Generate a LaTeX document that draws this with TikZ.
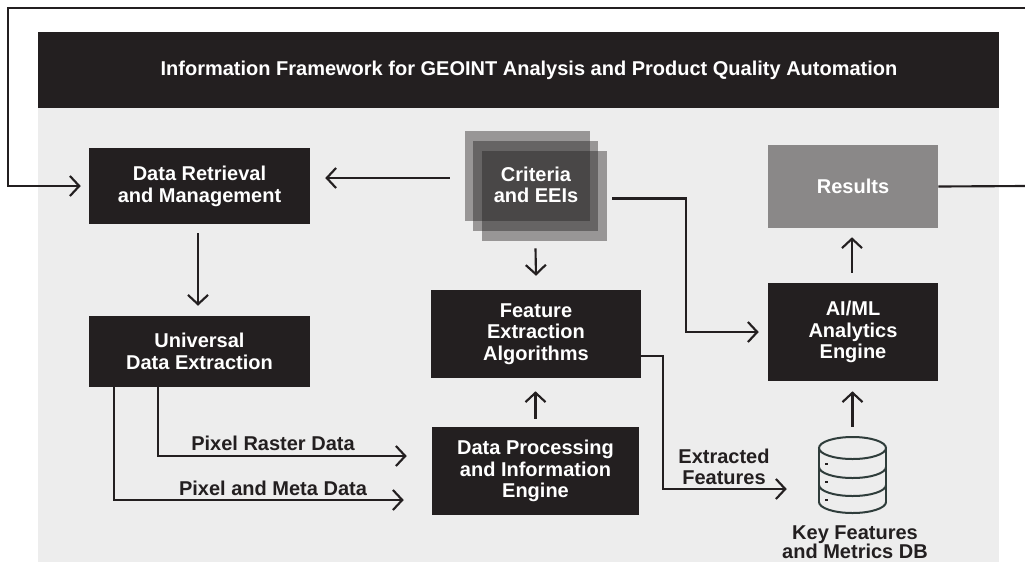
\documentclass[tikz,border=0pt]{standalone}
\usepackage{fontspec}
\setmainfont{Liberation Sans}
\usetikzlibrary{arrows.meta,calc}
\definecolor{ink}{HTML}{231F20}
\definecolor{panel}{HTML}{EDEDED}
\definecolor{resbox}{HTML}{8A8888}
\definecolor{dbink}{HTML}{2F3D3B}
\tikzset{
  x=0.75pt,y=-0.75pt,
  box/.style={fill=ink,text=white,font=\bfseries\fontsize{15}{16}\selectfont,align=center,inner sep=0pt},
  sheet/.style={fill=ink,fill opacity=0.42,inner sep=0pt,minimum width=93.75pt,minimum height=67.5pt},
  lab/.style={text=ink,font=\bfseries\fontsize{15}{16}\selectfont,align=center,inner sep=0pt},
  conn/.style={draw=ink,line width=1.6pt,-{Straight Barb[length=7pt,width=15pt,line width=1.6pt]}},
  plain/.style={draw=ink,line width=1.6pt},
  dbline/.style={draw=dbink,line width=1.5pt}
}
\begin{document}
\begin{tikzpicture}
\useasboundingbox (0,0) rectangle (1025,562);
\fill[panel] (38,108) rectangle (999,562);
\node[fill=ink,inner sep=0pt,minimum width=720.75pt,minimum height=57pt] (titlebar) at (518.5,70) {};
\node[text=white,font=\bfseries\fontsize{15}{16}\selectfont,inner sep=0pt] (title) at (529,70) {Information Framework for GEOINT Analysis and Product Quality Automation};
\node[box,font=\bfseries\fontsize{15}{16.5}\selectfont,minimum width=165.75pt,minimum height=57pt] (retr) at (199.5,186) {Data Retrieval\\and Management};
\node[box,minimum width=165.75pt,minimum height=53.25pt] (univ) at (199.5,351.5) {Universal\\Data Extraction};
\node[box,minimum width=157.5pt,minimum height=66pt] (feat) at (536,334) {Feature\\Extraction\\Algorithms};
\node[box,minimum width=155.25pt,minimum height=66pt] (proc) at (535.5,471) {Data Processing\\and Information\\Engine};
\node[box,minimum width=127.5pt,minimum height=73.5pt] (ai) at (853,332) {AI/ML\\Analytics\\Engine};
\node[box,fill=resbox,minimum width=127.5pt,minimum height=62.25pt] (res) at (853,186.5) {Results};
\node[sheet] (s1) at (527.5,176) {};
\node[sheet] (s2) at (535.5,186) {};
\node[sheet] (s3) at (544.5,196) {};
\node[lab,text=white] (crit) at (536,185) {Criteria\\and EEIs};
% database
\foreach \yy in {467,485,502}{
  \draw[dbline] (819,\yy) arc[start angle=180,end angle=0,x radius=33.5,y radius=11];
}
\draw[dbline] (852.5,448) ellipse[x radius=33.5,y radius=11];
\draw[dbline] (819,448) -- (819,502);
\draw[dbline] (886,448) -- (886,502);
\foreach \yy in {463,481,499}{\fill[ink] (825,\yy) rectangle (828,\yy+2);}
\node[inner sep=0pt,minimum width=50.25pt,minimum height=57pt] (db) at (852.5,475) {};
\node[lab,font=\bfseries\fontsize{15}{14.5}\selectfont] (dblab) at (855,542.5) {Key Features\\and Metrics DB};
% connectors
\coordinate (tr) at (1025,8);
\coordinate (tl) at (8,8);
\coordinate (bl) at (8,186);
\coordinate (end) at (1025,186);
\coordinate (c1) at (686,198.5);
\coordinate (u1) at (158,456);
\coordinate (u2) at (114,500);
\coordinate (f1) at (663,356);
\coordinate (f2) at (663,489);
\draw[conn] (tr) -- (tl) -- (bl) -- ($(retr.west)+(-8,0)$);
\draw[plain] (res.east) -- (end);
\draw[conn] ($(s1.west)+(-15,2)$) -- ($(retr.east)+(15,-8)$);
\draw[conn] ($(retr.south)+(-1.5,9)$) -- ($(univ.north)+(-1.5,-10)$);
\draw[conn] ($(s2.south)+(0,17)$) -- ($(feat.north)+(0,-14)$);
\draw[conn] ($(proc.north)+(0,-8)$) -- ($(feat.south)+(-0.5,13)$);
\draw[conn] ($(ai.north)+(-1,-10)$) -- ($(res.south)+(-1,9)$);
\draw[conn] ($(db.north)+(0,-10)$) -- ($(ai.south)+(-0.5,10)$);
\draw[conn] ($(s3.east)+(5,2.5)$) -- (c1) -- (c1 |- ai.west) -- ($(ai.west)+(-9,0)$);
\draw[conn] (u1 |- univ.south) -- (u1) -- ($(proc.west |- u1)+(-25,0)$);
\draw[conn] (u2 |- univ.south) -- (u2) -- ($(proc.west |- u2)+(-28,0)$);
\draw[conn] (f1 -| feat.east) -- (f1) -- (f2) -- ($(db.west |- f2)+(-32,0)$);
\node[lab] (l1) at (273,443) {Pixel Raster Data};
\node[lab] (l2) at (273,488) {Pixel and Meta Data};
\node[lab] (l3) at (724,467) {Extracted\\Features};
\end{tikzpicture}
\end{document}
